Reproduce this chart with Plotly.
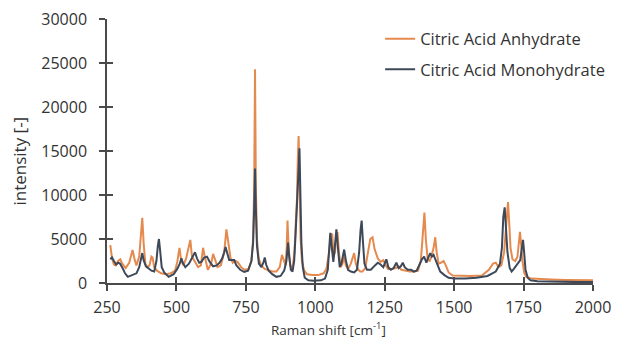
import plotly.graph_objects as go

# Citric Acid Anhydrate (orange)
anh_x = [262, 268, 275, 282, 290, 298, 305, 317, 330, 342, 350, 356, 366, 372, 377, 382, 388, 395, 403, 410,
         414, 420, 430, 445, 462, 480, 495, 503, 511, 517, 525, 535, 545, 550, 556, 567, 578, 588, 596, 602,
         613, 625, 632, 640, 648, 660, 672, 680, 686, 695, 703, 712, 720, 733, 745, 760, 770, 776, 780, 783,
         786, 790, 796, 805, 818, 830, 845, 860, 872, 880, 886, 893, 897, 900, 904, 910, 918, 925, 930, 934,
         937, 940, 943, 947, 952, 960, 970, 990, 1010, 1030, 1040, 1050, 1057, 1061, 1066, 1071, 1076, 1080, 1085, 1092,
         1098, 1104, 1110, 1118, 1128, 1135, 1140, 1146, 1155, 1162, 1170, 1180, 1190, 1198, 1206, 1214, 1225, 1235, 1245, 1252,
         1262, 1275, 1290, 1300, 1310, 1325, 1340, 1355, 1370, 1380, 1388, 1393, 1398, 1405, 1412, 1418, 1426, 1432, 1437, 1444,
         1452, 1462, 1470, 1480, 1495, 1520, 1560, 1600, 1625, 1640, 1650, 1660, 1670, 1680, 1686, 1690, 1694, 1698, 1703, 1710,
         1720, 1728, 1733, 1737, 1741, 1746, 1752, 1760, 1780, 1800, 1850, 1900, 1950, 2000]
anh_y = [4300, 2800, 2100, 2000, 2500, 2700, 2200, 1700, 2300, 3750, 2600, 2000, 3000, 5500, 7400, 4500, 2200, 1800, 2000, 3000,
         2900, 1800, 1400, 1100, 1000, 1100, 1400, 2400, 4000, 2600, 2000, 2800, 4500, 4900, 3000, 2400, 1800, 2000, 4000, 3000,
         1500, 2200, 3300, 2600, 1800, 2000, 3500, 6100, 4500, 2800, 2300, 2500, 2400, 1800, 1500, 1600, 2500, 5000, 11000, 24300,
         11000, 5000, 2800, 2000, 1600, 1500, 1300, 1300, 1800, 3200, 2500, 2000, 4000, 7100, 4000, 2000, 1600, 3500, 7000, 9500,
         14000, 16700, 12000, 5000, 2500, 1400, 1000, 900, 900, 1100, 1600, 3500, 5500, 5600, 3000, 3500, 5600, 5800, 3500, 1800,
         2200, 3000, 2000, 1600, 2200, 3000, 3400, 2200, 1500, 1300, 1300, 1700, 3500, 5000, 5200, 3800, 2800, 2400, 2600, 2100,
         1600, 1600, 1700, 1900, 1500, 1400, 1300, 1300, 1400, 2500, 5500, 8000, 5000, 2600, 2500, 3000, 4000, 5200, 3500, 2200,
         2300, 2500, 2000, 1200, 850, 800, 800, 850, 1500, 2200, 2300, 1800, 2000, 3500, 6000, 8500, 9200, 7000, 4000, 2700,
         2500, 3000, 4500, 5800, 4500, 2500, 1200, 700, 500, 450, 400, 350, 300, 300]

# Citric Acid Monohydrate (dark blue-grey)
mono_x = [262, 268, 275, 283, 290, 297, 306, 315, 325, 340, 356, 366, 372, 377, 382, 390, 398, 410, 420, 428,
          433, 437, 441, 447, 456, 472, 490, 503, 512, 518, 523, 532, 545, 558, 567, 574, 582, 590, 600, 610,
          620, 632, 645, 655, 665, 672, 677, 682, 690, 700, 708, 716, 730, 744, 758, 770, 776, 780, 783, 786,
          790, 797, 806, 813, 818, 823, 832, 845, 860, 875, 888, 896, 902, 906, 912, 918, 924, 929, 933, 937,
          940, 943, 946, 950, 955, 962, 975, 995, 1020, 1035, 1045, 1050, 1054, 1058, 1065, 1070, 1076, 1081, 1088, 1094,
          1104, 1110, 1118, 1128, 1140, 1150, 1158, 1163, 1167, 1171, 1177, 1186, 1200, 1215, 1225, 1235, 1245, 1256, 1263, 1272,
          1282, 1292, 1300, 1308, 1315, 1322, 1333, 1345, 1355, 1365, 1375, 1384, 1392, 1400, 1407, 1414, 1420, 1426, 1432, 1440,
          1450, 1465, 1480, 1500, 1540, 1580, 1620, 1650, 1665, 1672, 1677, 1682, 1686, 1692, 1700, 1707, 1715, 1725, 1732, 1738,
          1743, 1748, 1752, 1757, 1765, 1775, 1800, 1850, 1900, 1950, 2000]
mono_y = [2700, 2900, 2500, 2100, 2300, 2200, 1700, 1100, 700, 900, 1100, 1800, 2800, 3400, 2600, 1900, 1700, 1400, 1300, 2500,
          4200, 5000, 3800, 1800, 1200, 700, 1000, 1600, 2200, 2800, 2300, 1800, 2200, 3000, 3500, 2800, 2300, 2400, 2900, 3000,
          2400, 1900, 2000, 2300, 2800, 3500, 4100, 3500, 2600, 2600, 2600, 2000, 1500, 1250, 1400, 2500, 4500, 8500, 13000, 8500,
          4200, 2200, 1800, 2300, 2900, 2100, 1400, 1000, 700, 800, 1400, 2500, 4600, 3000, 1500, 1300, 2500, 5500, 8100, 9500,
          13000, 15300, 11000, 4500, 1800, 600, 300, 250, 300, 500, 1500, 3500, 5700, 4500, 2400, 4000, 6100, 4200, 1800, 2200,
          3800, 2600, 1500, 1300, 1200, 1500, 3500, 6000, 7100, 5000, 2200, 1500, 1500, 2000, 2300, 2100, 1800, 2700, 1800, 1500,
          1700, 2300, 1700, 1900, 2300, 1800, 1500, 1500, 1300, 1400, 2200, 2700, 3000, 2300, 2900, 3400, 3000, 3200, 2700, 2000,
          1300, 900, 600, 500, 500, 600, 800, 1300, 2200, 4000, 7500, 8600, 6500, 3500, 1700, 1300, 1600, 2000, 2300, 2600,
          3800, 4900, 3500, 1500, 600, 300, 200, 150, 150, 100, 100]

x_ticks = [250, 500, 750, 1000, 1250, 1500, 1750, 2000]
y_ticks = [0, 5000, 10000, 15000, 20000, 25000, 30000]

ORANGE = "#E58A4E"
BLUE = "#3D4859"
AXIS = "#4a4a4a"
TXT = "#333333"
FONT = "Open Sans"

fig = go.Figure()
fig.add_trace(go.Scatter(x=anh_x, y=anh_y, mode="lines", name="Citric Acid Anhydrate",
                         line=dict(color=ORANGE, width=2), legendgroup="a"))
fig.add_trace(go.Scatter(x=mono_x, y=mono_y, mode="lines", name="Citric Acid Monohydrate",
                         line=dict(color=BLUE, width=2), legendgroup="b"))
# invisible trace to anchor the overlay axes (inner tick halves)
fig.add_trace(go.Scatter(x=[None], y=[None], xaxis="x2", yaxis="y2", showlegend=False, hoverinfo="skip"))

common = dict(showgrid=False, zeroline=False, showline=True, linecolor=AXIS, linewidth=1.5,
              tickcolor=AXIS, tickwidth=1.5, automargin=False)

fig.update_layout(
    width=622, height=342,
    margin=dict(l=107, r=19, t=19, b=59),
    paper_bgcolor="white", plot_bgcolor="white",
    font=dict(family=FONT, color=TXT),
    showlegend=True,
    legend=dict(x=0.562, y=0.99, xanchor="left", yanchor="top", font=dict(size=16.5, color=TXT),
                bgcolor="rgba(0,0,0,0)", tracegroupgap=6, traceorder="grouped", itemwidth=30),
    xaxis=dict(range=[250, 2000], tickvals=x_ticks, ticktext=[str(v) for v in x_ticks],
               ticks="outside", ticklen=6, ticklabelstandoff=3, tickfont=dict(size=16, color=TXT),
               ticklabeloverflow="allow", **common),
    yaxis=dict(range=[0, 30000], tickvals=y_ticks, ticktext=[str(v) for v in y_ticks],
               ticks="outside", ticklen=6, ticklabelstandoff=9, tickfont=dict(size=16, color=TXT),
               ticklabeloverflow="allow", **common),
    xaxis2=dict(range=[250, 2000], overlaying="x", anchor="y2", tickvals=x_ticks, ticks="inside",
                ticklen=6, showticklabels=False, **common),
    yaxis2=dict(range=[0, 30000], overlaying="y", anchor="x2", tickvals=y_ticks, ticks="inside",
                ticklen=6, showticklabels=False, **common),
    annotations=[
        dict(text="Raman shift [cm<sup>-1</sup>]", xref="paper", yref="paper", x=0.455, y=-0.174,
             xanchor="center", yanchor="middle", showarrow=False, font=dict(size=13.5, color=TXT, family=FONT)),
        dict(text="intensity [-]", xref="paper", yref="paper", x=-0.179, y=0.46, textangle=-90,
             xanchor="center", yanchor="middle", showarrow=False, font=dict(size=17, color=TXT, family=FONT)),
    ],
)

fig.write_html("out.html", config={"displayModeBar": False},
               post_script="document.body.style.margin='0';document.body.style.overflow='hidden';")
